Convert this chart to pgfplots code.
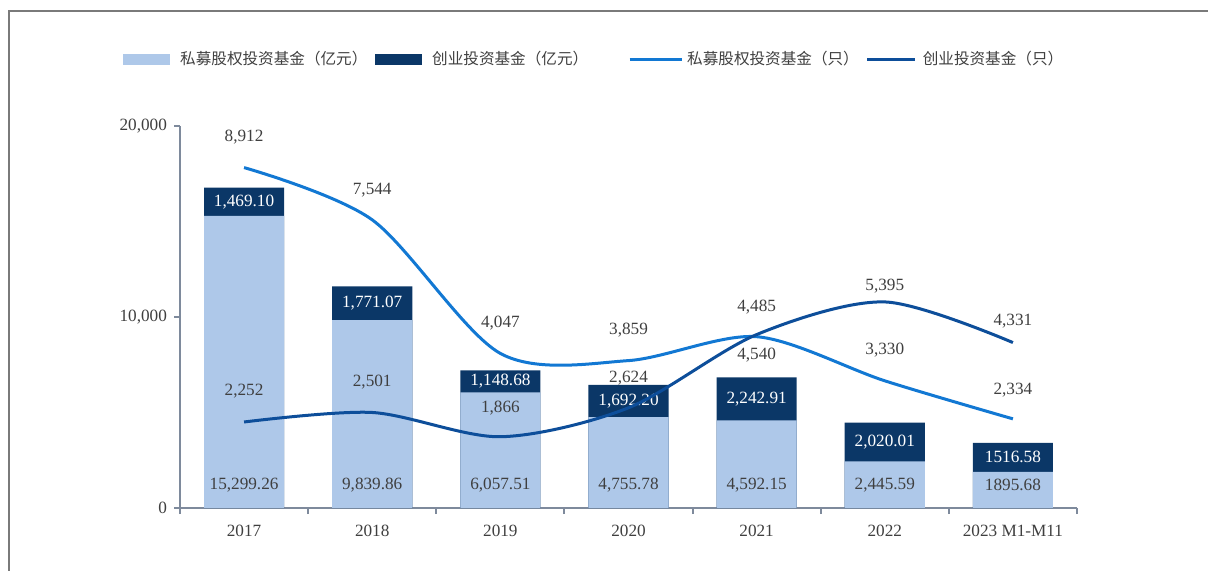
\documentclass[border=0pt]{standalone}
\usepackage{fontspec}
\setmainfont{Liberation Serif}
\newfontfamily\cjk{Noto Sans CJK SC}
\usepackage{pgfplots}
\usepackage{pgfplotstable}
\pgfplotsset{compat=1.18}
\definecolor{pebar}{HTML}{AEC8E9}
\definecolor{vcbar}{HTML}{0B3767}
\definecolor{peline}{HTML}{1278D3}
\definecolor{vcline}{HTML}{0D4E9A}
\definecolor{axisgray}{HTML}{7E8A9C}
\definecolor{labelgray}{HTML}{3F3F3F}
\definecolor{framegray}{HTML}{7A7A7A}

% fund size, 100 million yuan
\pgfplotstableread{
x pe vc pelab vclab
0 15299.26 1469.10 15,299.26 1,469.10
1 9839.86 1771.07 9,839.86 1,771.07
2 6057.51 1148.68 6,057.51 1,148.68
3 4755.78 1692.20 4,755.78 1,692.20
4 4592.15 2242.91 4,592.15 2,242.91
5 2445.59 2020.01 2,445.59 2,020.01
6 1895.68 1516.58 1895.68 1516.58
}\bars

% number of funds; dy = label offset in pt
\pgfplotstableread{
x pe vc pedy vcdy pelab vclab
0 8912 2252 15 15.5 8,912 2,252
1 7544 2501 15 15 7,544 2,501
2 4047 1866 15 14.5 4,047 1,866
3 3859 2624 15 15 3,859 2,624
4 4485 4540 15 -10.5 4,485 4,540
5 3330 5395 15.5 8 3,330 5,395
6 2334 4331 14.5 10.5 2,334 4,331
}\counts

\newcommand{\lblfont}{\fontsize{8.6pt}{10pt}\selectfont}

\begin{document}
\begin{tikzpicture}
\useasboundingbox (0,0) rectangle (604pt,-285pt);
\draw[framegray, line width=1pt] (4.5pt,-300pt) -- (4.5pt,-5.5pt) -- (620pt,-5.5pt);

\begin{axis}[
  at={(90pt,-254pt)}, anchor=south west,
  scale only axis, width=448.5pt, height=191pt,
  xmin=-0.5, xmax=6.5, ymin=0, ymax=20000,
  clip=false,
  axis lines*=left,
  axis line style={axisgray, line width=1pt},
  tick style={axisgray, line width=1pt},
  tick align=outside,
  major tick length=3pt,
  ytick={0,10000,20000},
  scaled y ticks=false,
  /pgf/number format/.cd, 1000 sep={,}, assume math mode=true, /pgfplots/.cd,
  xtick={-0.5,0.5,...,6.5},
  xticklabels={},
  extra x ticks={0,1,2,3,4,5,6},
  extra x tick labels={2017,2018,2019,2020,2021,2022,2023 M1-M11},
  extra x tick style={major tick length=0pt},
  x tick label style={yshift=-5pt},
  tick label style={font=\lblfont, text=labelgray},
  legend columns=4,
  legend style={draw=none, fill=none, at={(0.463,1.175)}, anchor=center,
    font=\cjk\fontsize{7.8pt}{9.5pt}\selectfont, text=labelgray,
    /tikz/column 1/.style={column sep=3pt},
    /tikz/column 2/.style={column sep=2pt},
    /tikz/column 3/.style={column sep=3pt},
    /tikz/column 4/.style={column sep=18pt},
    /tikz/column 5/.style={column sep=0pt},
    /tikz/column 6/.style={column sep=1.5pt},
    /tikz/column 7/.style={column sep=1pt}},
]
\addlegendimage{legend image code/.code={\fill[pebar] (0pt,-2.5pt) rectangle (23pt,2.5pt);}}
\addlegendentry{私募股权投资基金（亿元）}
\addlegendimage{legend image code/.code={\fill[vcbar] (0pt,-2.5pt) rectangle (23pt,2.5pt);}}
\addlegendentry{创业投资基金（亿元）}
\addlegendimage{legend image code/.code={\draw[peline, line width=1.5pt] (0pt,0pt) -- (26pt,0pt);}}
\addlegendentry{私募股权投资基金（只）}
\addlegendimage{legend image code/.code={\draw[vcline, line width=1.5pt] (0pt,0pt) -- (24pt,0pt);}}
\addlegendentry{创业投资基金（只）}

% dark segment drawn as full stack height, light part laid over it
\addplot[forget plot, ybar, bar width=0.625, bar shift=0pt, fill=vcbar, draw=none]
  table[x=x, y expr=\thisrow{pe}+\thisrow{vc}] {\bars};
\addplot[forget plot, ybar, bar width=0.625, bar shift=0pt, fill=pebar, draw=none]
  table[x=x, y=pe] {\bars};

\addplot[forget plot, draw=none, nodes near coords, point meta=explicit symbolic,
  every node near coord/.style={anchor=center, font=\lblfont, text=labelgray}]
  table[x=x, y expr=1200, meta=pelab] {\bars};
\addplot[forget plot, draw=none, nodes near coords, point meta=explicit symbolic,
  every node near coord/.style={anchor=center, font=\lblfont, text=white}]
  table[x=x, y expr=\thisrow{pe}+0.5*\thisrow{vc}, meta=vclab] {\bars};
\end{axis}

\begin{axis}[
  at={(90pt,-254pt)}, anchor=south west,
  scale only axis, width=448.5pt, height=191pt,
  xmin=-0.5, xmax=6.5, ymin=0, ymax=10000,
  hide axis, clip=false,
]
\addplot[peline, line width=1.5pt, smooth, mark=none] table[x=x, y=pe] {\counts};
\addplot[vcline, line width=1.5pt, smooth, mark=none] table[x=x, y=vc] {\counts};

\addplot[draw=none, nodes near coords, point meta=explicit symbolic,
  visualization depends on={\thisrow{pedy} \as \dy},
  every node near coord/.style={anchor=center, yshift=\dy pt, font=\lblfont, text=labelgray}]
  table[x=x, y=pe, meta=pelab] {\counts};
\addplot[draw=none, nodes near coords, point meta=explicit symbolic,
  visualization depends on={\thisrow{vcdy} \as \dy},
  every node near coord/.style={anchor=center, yshift=\dy pt, font=\lblfont, text=labelgray}]
  table[x=x, y=vc, meta=vclab] {\counts};
\end{axis}
\end{tikzpicture}
\end{document}
